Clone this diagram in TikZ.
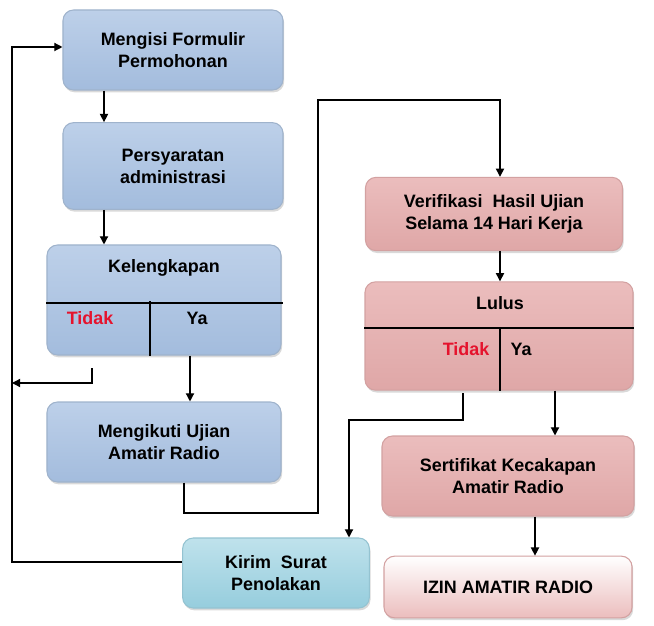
\documentclass[tikz,border=0pt]{standalone}
\usepackage{fontspec}
\setmainfont{Liberation Sans}
\usepackage{xcolor}
\usetikzlibrary{arrows.meta,positioning,shadows,calc}

\definecolor{blueTop}{HTML}{BDD0E9}
\definecolor{blueMid}{HTML}{F1F5FB}
\definecolor{blueBot}{HTML}{A3BCDD}
\definecolor{blueLine}{HTML}{9FB3CC}
\definecolor{redTop}{HTML}{EBBDBD}
\definecolor{redMid}{HTML}{FAEDED}
\definecolor{redBot}{HTML}{DFA7A7}
\definecolor{redLine}{HTML}{D3A1A1}
\definecolor{cyanTop}{HTML}{BFE2EC}
\definecolor{cyanMid}{HTML}{EEF8FA}
\definecolor{cyanBot}{HTML}{96CDDD}
\definecolor{cyanLine}{HTML}{94C3D1}
\definecolor{noRed}{HTML}{E5132D}

\begin{document}
\begin{tikzpicture}[
    x=0.03cm, y=-0.03cm,
    box/.style={rounded corners=9pt, line width=0.9pt, align=center, inner sep=2pt,
        font=\bfseries\fontsize{15.3}{18.7}\selectfont,
        drop shadow={shadow xshift=1pt, shadow yshift=-2pt, opacity=0.3, fill=gray}},
    bluebox/.style={box, draw=blueLine, top color=blueTop, middle color=blueMid, bottom color=blueBot},
    redbox/.style={box, draw=redLine, top color=redTop, middle color=redMid, bottom color=redBot},
    cyanbox/.style={box, draw=cyanLine, top color=cyanTop, middle color=cyanMid, bottom color=cyanBot},
    endbox/.style={box, draw=redLine, top color=white, middle color=redMid!60, bottom color=redTop},
    lbl/.style={font=\bfseries\fontsize{15.3}{18}\selectfont},
    nolbl/.style={lbl, text=noRed},
    arrow/.style={-{Triangle[length=7pt,width=7pt]}, line width=1.1pt},
    link/.style={line width=1.1pt}
]
\useasboundingbox (0,0) rectangle (654,626);

% ===== LEFT COLUMN =====
\node[bluebox, minimum width=6.6cm, minimum height=2.4cm] (formulir) at (173,50) {Mengisi Formulir\\Permohonan};
\node[bluebox, minimum width=6.6cm, minimum height=2.6cm] (syarat) at (173,166) {Persyaratan\\administrasi};
\node[bluebox, minimum width=7.02cm, minimum height=3.3cm] (lengkap) at (164,300) {};
\node[bluebox, minimum width=7.02cm, minimum height=2.4cm] (ujian) at (164,442) {Mengikuti Ujian\\Amatir Radio};
\node[cyanbox, minimum width=5.6cm, minimum height=2.1cm] (kirim) at (276,573) {Kirim~ Surat\\Penolakan};

\node[lbl] (lengkapT) at (164,268) {Kelengkapan};
\node[nolbl] (lengkapN) at (90,318) {Tidak};
\node[lbl] (lengkapY) at (197,318) {Ya};
\draw[link] (lengkap.west |- 0,303) -- (283,303);
\draw[link] (150,301) -- (150,0 |- lengkap.south);

% ===== RIGHT COLUMN =====
\node[redbox, minimum width=7.71cm, minimum height=2.2cm] (verif) at (494,214) {Verifikasi~ Hasil Ujian\\Selama 14 Hari Kerja};
\node[redbox, minimum width=8.04cm, minimum height=3.25cm] (lulus) at (499,336) {};
\node[redbox, minimum width=7.56cm, minimum height=2.4cm] (sertif) at (508,476) {Sertifikat Kecakapan\\Amatir Radio};
\node[endbox, minimum width=7.44cm, minimum height=1.85cm] (izin) at (508,587) {IZIN AMATIR RADIO};

\node[lbl] (lulusT) at (500,303) {Lulus};
\node[nolbl] (lulusN) at (466,349) {Tidak};
\node[lbl] (lulusY) at (521,349) {Ya};
\draw[link] (lulus.west |- 0,328) -- (lulus.east |- 0,328);
\draw[link] (500,328) -- (500,0 |- lulus.south);

% ===== CONNECTORS =====
\coordinate (rail) at (12,0);
\coordinate (up) at (318,100);

\draw[arrow] (formulir.south -| 104,0) -- (syarat.north -| 104,0);
\draw[arrow] (syarat.south -| 104,0) -- (lengkap.north -| 104,0);
\draw[arrow] (lengkap.south -| 190,0) -- (ujian.north -| 190,0);
\draw[arrow] (92,368) |- (rail |- 0,383);
\draw[arrow] ([yshift=0.33cm]kirim.west) -| (rail |- 0,47) -- (formulir.west |- 0,47);

\draw[arrow] (ujian.south -| 184,0) |- (up |- 0,513) -- (up) -| (verif.north -| 500,0);
\draw[arrow] (verif.south -| 500,0) -- (lulus.north -| 500,0);
\draw[arrow] (lulus.south -| 555,0) -- (sertif.north -| 555,0);
\draw[arrow] (463,393) |- (349,420) -- (kirim.north -| 349,0);
\draw[arrow] (sertif.south -| 535,0) -- (izin.north -| 535,0);

\end{tikzpicture}
\end{document}
